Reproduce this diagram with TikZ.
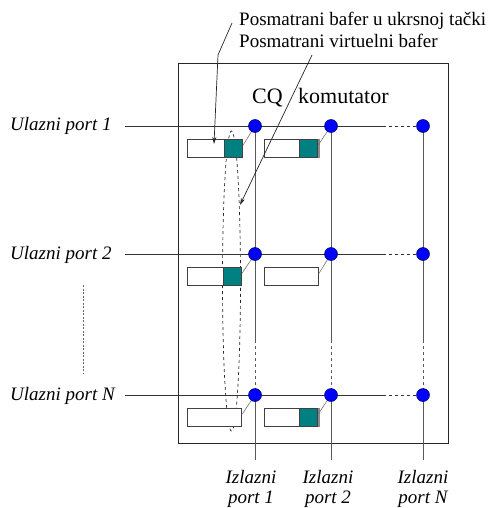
\documentclass[tikz,border=0pt]{standalone}
\usepackage{fontspec}
\setmainfont{Liberation Serif}
\usetikzlibrary{arrows.meta,shapes.geometric}
\begin{document}
\begin{tikzpicture}[x=1pt,y=-1pt,
  hline/.style={draw=black!80,line width=0.8pt},
  vline/.style={draw=black!65,line width=1pt},
  xpt/.style={circle,fill=blue,draw=blue!35!black,line width=0.5pt,minimum size=13pt,inner sep=0pt},
  bufbox/.style={draw=black!75,fill=white,line width=0.9pt,minimum width=55pt,minimum height=18pt,inner sep=0pt,anchor=north west},
  cell/.style={draw=black!75,fill=teal,line width=0.9pt,minimum width=18pt,minimum height=18pt,inner sep=0pt,anchor=north east},
  link/.style={draw=black!55,line width=0.6pt},
  inlabel/.style={font=\fontsize{19}{20}\selectfont\itshape,inner sep=0pt,anchor=base west},
  outlabel/.style={font=\fontsize{19}{20}\selectfont\itshape,inner sep=0pt,align=center},
  note/.style={font=\fontsize{19}{22}\selectfont,inner sep=0pt,anchor=base west},
  pointer/.style={draw=black!85,line width=0.7pt,-{Stealth[length=7pt,width=4pt]}}
]
\useasboundingbox (0,0) rectangle (494,508);
% switch frame
\node[draw=black!85,line width=0.8pt,minimum width=270pt,minimum height=380pt,inner sep=0pt,anchor=north west] (frame) at (178,63) {};
% dashed ellipse (virtual buffer)
\node[draw=black!85,dashed,line width=0.7pt,ellipse,minimum width=18pt,minimum height=300pt,inner sep=0pt] (vq) at (231.5,281) {};
% vertical output lines
\foreach \c/\x in {1/255,2/331,N/423}{
  \coordinate (top\c) at (\x,126);
  \coordinate (da\c) at (\x,340);
  \coordinate (db\c) at (\x,394);
  \coordinate (out\c) at (\x,460);
  \draw[vline] (top\c) -- (da\c);
  \draw[vline,dashed] (da\c) -- (db\c);
  \draw[vline] (db\c) -- (out\c);
}
% input lines
\foreach \r/\y in {1/126,2/254,N/395}{
  \coordinate (in\r) at (125,\y);
  \coordinate (dh\r) at (383,\y);
  \coordinate (end\r) at (423,\y);
  \draw[hline] (in\r) -- (dh\r);
  \draw[hline,dashed] (dh\r) -- (end\r);
}
% buffers
\node[bufbox] (b11) at (187,139) {};
\node[cell] (c11) at (b11.north east) {};
\node[bufbox,minimum width=53pt] (b12) at (264,139) {};
\node[cell] (c12) at (b12.north east) {};
\draw[black!45,line width=1.5pt] ([xshift=1pt]c12.north east) -- ([xshift=1pt]c12.south east);
\node[bufbox,minimum width=54pt] (b21) at (187,267) {};
\node[cell] (c21) at (b21.north east) {};
\node[bufbox,minimum width=54pt] (b22) at (264,267) {};
\node[bufbox,minimum width=54pt] (bN1) at (187,408) {};
\node[bufbox,minimum width=53pt] (bN2) at (264,408) {};
\node[cell] (cN2) at (bN2.north east) {};
\draw[black!45,line width=1.5pt] ([xshift=1pt]cN2.north east) -- ([xshift=1pt]cN2.south east);
% links from buffers to crosspoints
\coordinate (x11) at (255,126);
\coordinate (x12) at (331,126);
\coordinate (x21) at (255,254);
\coordinate (x22) at (331,254);
\coordinate (xN1) at (255,395);
\coordinate (xN2) at (331,395);
\foreach \b/\x in {b11/x11,b12/x12,b21/x21,b22/x22,bN1/xN1,bN2/xN2}{
  \draw[link] ([yshift=3pt]\b.east) -- (\x);
}
% crosspoints
\foreach \r/\y in {1/126,2/254,N/395}{
  \foreach \c/\x in {1/255,2/331,N/423}{
    \node[xpt] (cp\r\c) at (\x,\y) {};
  }
}
% labels
\node[inlabel] (l1) at (10,131) {Ulazni port 1};
\node[inlabel] (l2) at (10,259) {Ulazni port 2};
\node[inlabel] (lN) at (10,400) {Ulazni port N};
\coordinate (vd1) at (83,285);
\coordinate (vd2) at (83,373);
\draw[black!60,line width=1pt,dash pattern=on 2pt off 1.5pt] (vd1) -- (vd2);
\node[outlabel] (o1) at (251,489) {Izlazni\\port 1};
\node[outlabel] (o2) at (328,489) {Izlazni\\port 2};
\node[outlabel] (oN) at (423,489) {Izlazni\\port N};
% title
\node[font=\fontsize{22}{24}\selectfont,inner sep=0pt,anchor=base west] (cq) at (252,104) {CQ};
\node[font=\fontsize{22}{24}\selectfont,inner sep=0pt,anchor=base west] (kom) at (298,104) {komutator};
% notes
\node[note] (n1) at (239,26) {Posmatrani bafer u ukrsnoj tački};
\node[note] (n2) at (239,48) {Posmatrani virtuelni bafer};
\coordinate (p1) at (232,23);
\coordinate (p1b) at (218,55);
\coordinate (p1c) at (214,144);
\draw[pointer] (p1) -- (p1b) -- (p1c);
\coordinate (p2) at (312,55);
\coordinate (p2c) at (240,205);
\draw[pointer] (p2) -- (p2c);
\end{tikzpicture}
\end{document}
